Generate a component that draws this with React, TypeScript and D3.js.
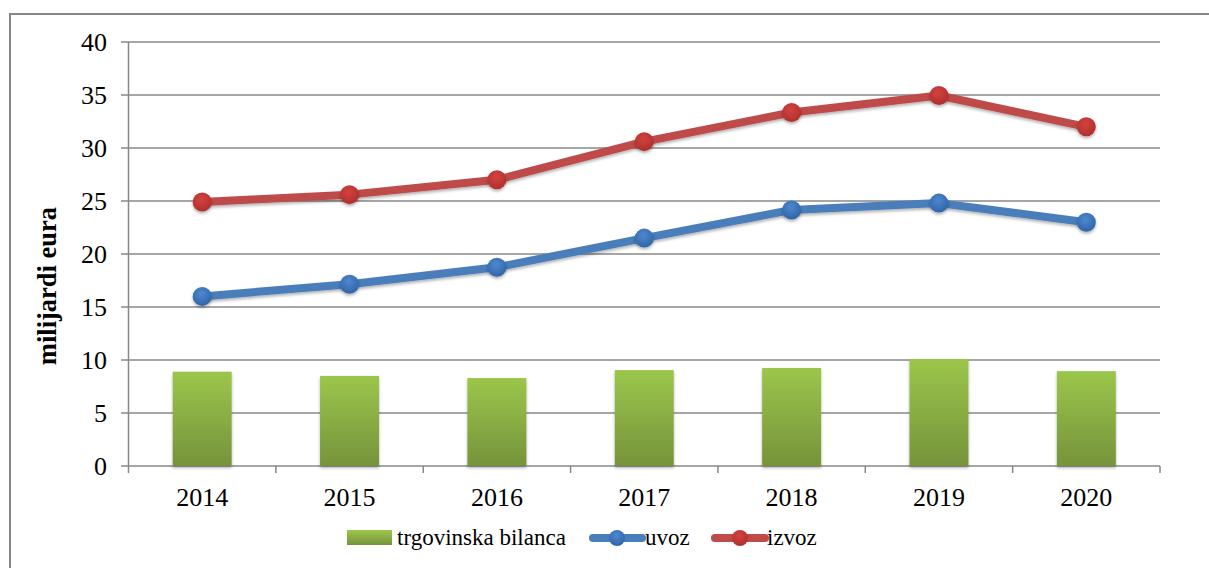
import React from "react";
import * as d3 from "d3";

const years = ["2014", "2015", "2016", "2017", "2018", "2019", "2020"];
const bilanca = [8.9, 8.5, 8.3, 9.05, 9.25, 10.1, 8.95];
const uvoz = [16.0, 17.15, 18.75, 21.5, 24.15, 24.8, 23.0];
const izvoz = [24.9, 25.6, 27.0, 30.6, 33.35, 34.95, 32.0];
const yTicks = [0, 5, 10, 15, 20, 25, 30, 35, 40];

const W = 1209;
const H = 568;
const left = 128.5;
const right = 1160;
const top = 42;
const bottom = 466;

export default function App() {
  const x = d3.scaleBand<string>().domain(years).range([left, right]).paddingInner(0).paddingOuter(0);
  const y = d3.scaleLinear().domain([0, 40]).range([bottom, top]);
  const bw = x.bandwidth() * 0.4;
  const cx = (d: string) => (x(d) as number) + x.bandwidth() / 2;
  const line = d3.line<number>().x((_, i) => cx(years[i])).y((v) => y(v));
  const font = "'Liberation Serif', 'Times New Roman', serif";
  const series = [
    { name: "uvoz", values: uvoz, color: "#4a7ebb", grad: "gBlue" },
    { name: "izvoz", values: izvoz, color: "#be4b48", grad: "gRed" },
  ];
  return (
    <svg width={W} height={H} style={{ position: "absolute", left: 0, top: 0, background: "#fff", fontFamily: font }}>
      <defs>
        <linearGradient id="gBar" x1="0" y1="0" x2="0" y2="1">
          <stop offset="0" stopColor="#9bc64b" />
          <stop offset="1" stopColor="#76933b" />
        </linearGradient>
        <radialGradient id="gBlue" cx="0.45" cy="0.35" r="0.7">
          <stop offset="0" stopColor="#4d88d0" />
          <stop offset="1" stopColor="#2f62a3" />
        </radialGradient>
        <radialGradient id="gRed" cx="0.45" cy="0.35" r="0.7">
          <stop offset="0" stopColor="#d2433f" />
          <stop offset="1" stopColor="#ad2e2b" />
        </radialGradient>
        <filter id="sh" x="-50%" y="-50%" width="200%" height="200%">
          <feDropShadow dx="0" dy="2" stdDeviation="1.5" floodColor="#000" floodOpacity="0.3" />
        </filter>
      </defs>
      <rect x={10} y={14} width={W + 20} height={H + 20} fill="none" stroke="#878787" strokeWidth={2} />
      {yTicks.map((t) => (
        <g key={t}>
          <line x1={121} x2={right} y1={y(t)} y2={y(t)} stroke="#888" strokeWidth={1.5} />
          <text x={107} y={y(t)} dy="0.35em" textAnchor="end" fontSize={26} fill="#000" style={{ fontFamily: font }}>
            {t}
          </text>
        </g>
      ))}
      <line x1={left} x2={left} y1={top} y2={bottom} stroke="#888" strokeWidth={1.5} />
      {years.map((yr) => (
        <line key={yr} x1={x(yr)} x2={x(yr)} y1={bottom} y2={bottom + 7} stroke="#888" strokeWidth={1.5} />
      ))}
      <line x1={right} x2={right} y1={bottom} y2={bottom + 7} stroke="#888" strokeWidth={1.5} />
      {bilanca.map((v, i) => (
        <rect key={i} x={cx(years[i]) - bw / 2} y={y(v)} width={bw} height={y(0) - y(v)} fill="url(#gBar)" filter="url(#sh)" />
      ))}
      {series.map((s) => (
        <g key={s.name}>
          <path d={line(s.values) as string} fill="none" stroke={s.color} strokeWidth={8} strokeLinejoin="round" filter="url(#sh)" />
          {s.values.map((v, i) => (
            <circle key={i} cx={cx(years[i])} cy={y(v)} r={9.5} fill={`url(#${s.grad})`} filter="url(#sh)" />
          ))}
        </g>
      ))}
      {years.map((yr) => (
        <text key={yr} x={cx(yr)} y={506} textAnchor="middle" fontSize={26} fill="#000" style={{ fontFamily: font }}>
          {yr}
        </text>
      ))}
      <text transform={`translate(56,286) rotate(-90)`} textAnchor="middle" fontSize={26.5} fontWeight="bold" fill="#000" style={{ fontFamily: font }}>
        milijardi eura
      </text>
      <g style={{ fontFamily: font }}>
        <rect x={347} y={530} width={45} height={15} fill="url(#gBar)" />
        <text x={397} y={545} fontSize={23} fill="#000">trgovinska bilanca</text>
        <line x1={593} x2={642} y1={538} y2={538} stroke="#4a7ebb" strokeWidth={8} strokeLinecap="round" />
        <circle cx={617} cy={538} r={8} fill="url(#gBlue)" />
        <text x={645} y={545} fontSize={23} fill="#000">uvoz</text>
        <line x1={715} x2={765} y1={538} y2={538} stroke="#be4b48" strokeWidth={8} strokeLinecap="round" />
        <circle cx={740} cy={538} r={8} fill="url(#gRed)" />
        <text x={767} y={545} fontSize={23} fill="#000">izvoz</text>
      </g>
    </svg>
  );
}
